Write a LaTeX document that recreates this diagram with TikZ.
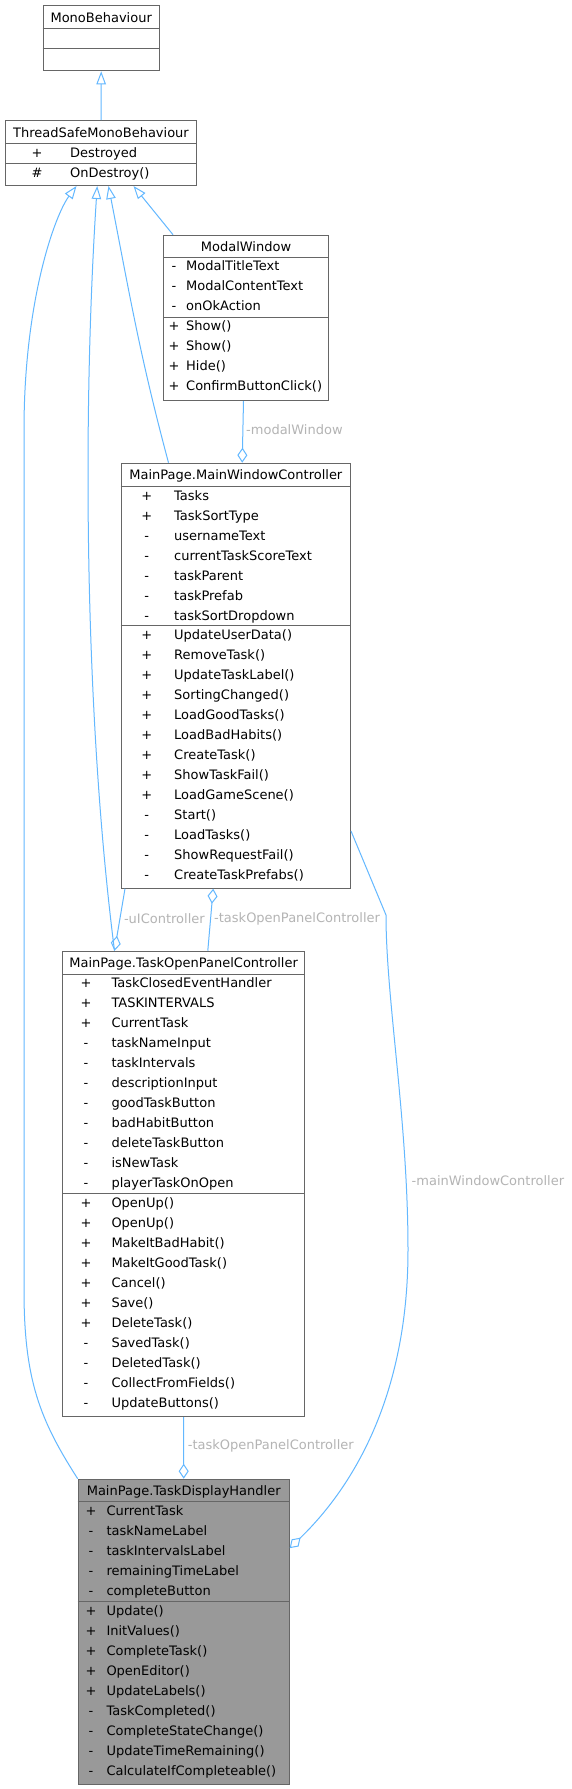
\documentclass[tikz,border=0pt]{standalone}
\usepackage{fontspec}
\setmainfont{DejaVu Sans}
\usetikzlibrary{arrows.meta,positioning,calc}
\definecolor{edge}{HTML}{63B8FF}
\definecolor{frame}{HTML}{666666}
\definecolor{shade}{HTML}{999999}
\definecolor{note}{HTML}{B4B4B4}

\begin{document}
\begin{tikzpicture}[
  x=1pt, y=-1pt,
  font=\fontsize{13}{15}\selectfont,
  cls/.style={draw=frame, line width=1pt, anchor=north west, inner sep=0pt, fill=white},
  ttl/.style={anchor=base, inner sep=0pt},
  sym/.style={anchor=base, inner sep=0pt},
  mem/.style={anchor=base west, inner sep=0pt},
  sep/.style={draw=frame, line width=1pt},
  lbl/.style={anchor=west, inner sep=0pt, text=note},
  inh/.style={draw=edge, line width=1pt, -{Triangle[open, length=13pt, width=9.5pt]}},
  agg/.style={draw=edge, line width=1pt, -{Diamond[open, length=15pt, width=10pt]}}]
  \useasboundingbox (0,0) rectangle (571,1789);
  \fill[white] (0,0) rectangle (571,1789);
  % MonoBehaviour
  \node[cls, minimum width=116pt, minimum height=65.3pt] (mono) at (42.7,5) {};
  \node[ttl] (mono-t) at ([yshift=-17pt]mono.north) {MonoBehaviour};
  \draw[sep] (mono.west |- 0,28.7) -- (mono.east |- 0,28.7);
  \draw[sep] (mono.west |- 0,48.7) -- (mono.east |- 0,48.7);
  % ThreadSafeMonoBehaviour
  \node[cls, minimum width=191pt, minimum height=65pt] (tsmb) at (5,120) {};
  \node[ttl] (tsmb-t) at ([yshift=-17pt]tsmb.north) {ThreadSafeMonoBehaviour};
  \draw[sep] (tsmb.west |- 0,143.7) -- (tsmb.east |- 0,143.7);
  \draw[sep] (tsmb.west |- 0,163.7) -- (tsmb.east |- 0,163.7);
  \node[sym] (tsmb-fs0) at (37,157.2) {+};
  \node[mem] (tsmb-f0) at (70,157.2) {Destroyed};
  \node[sym] (tsmb-ms0) at (37,177.2) {\#};
  \node[mem] (tsmb-m0) at (70,177.2) {OnDestroy()};
  % ModalWindow
  \node[cls, minimum width=165pt, minimum height=165.3pt] (modal) at (163,234.7) {};
  \node[ttl] (modal-t) at ([yshift=-16.5pt]modal.north) {ModalWindow};
  \draw[sep] (modal.west |- 0,257) -- (modal.east |- 0,257);
  \draw[sep] (modal.west |- 0,317) -- (modal.east |- 0,317);
  \foreach \vis/\txt [count=\i from 0] in {-/ModalTitleText,-/ModalContentText,-/onOkAction}
    {\node[sym] (modal-fs\i) at (174,270.5+20*\i) {\vis};
     \node[mem] (modal-f\i) at (186,270.5+20*\i) {\txt};}
  \foreach \vis/\txt [count=\i from 0] in {+/Show(),+/Show(),+/Hide(),+/ConfirmButtonClick()}
    {\node[sym] (modal-ms\i) at (174,330.5+20*\i) {\vis};
     \node[mem] (modal-m\i) at (186,330.5+20*\i) {\txt};}
  % MainWindowController
  \node[cls, minimum width=229.3pt, minimum height=425pt] (mwc) at (120.7,462.7) {};
  \node[ttl] (mwc-t) at ([yshift=-16.8pt]mwc.north) {MainPage.MainWindowController};
  \draw[sep] (mwc.west |- 0,486.7) -- (mwc.east |- 0,486.7);
  \draw[sep] (mwc.west |- 0,625.7) -- (mwc.east |- 0,625.7);
  \foreach \vis/\txt [count=\i from 0] in {+/Tasks,+/TaskSortType,-/usernameText,-/currentTaskScoreText,
      -/taskParent,-/taskPrefab,-/taskSortDropdown}
    {\node[sym] (mwc-fs\i) at (146.7,500.2+20*\i) {\vis};
     \node[mem] (mwc-f\i) at (174,500.2+20*\i) {\txt};}
  \foreach \vis/\txt [count=\i from 0] in {+/UpdateUserData(),+/RemoveTask(),+/UpdateTaskLabel(),
      +/SortingChanged(),+/LoadGoodTasks(),+/LoadBadHabits(),+/CreateTask(),+/ShowTaskFail(),
      +/LoadGameScene(),-/Start(),-/LoadTasks(),-/ShowRequestFail(),-/CreateTaskPrefabs()}
    {\node[sym] (mwc-ms\i) at (146.7,639.2+20*\i) {\vis};
     \node[mem] (mwc-m\i) at (174,639.2+20*\i) {\txt};}
  % TaskOpenPanelController
  \node[cls, minimum width=242.3pt, minimum height=465.3pt] (topc) at (62,950.7) {};
  \node[ttl] (topc-t) at ([yshift=-17pt]topc.north) {MainPage.TaskOpenPanelController};
  \draw[sep] (topc.west |- 0,974) -- (topc.east |- 0,974);
  \draw[sep] (topc.west |- 0,1193.7) -- (topc.east |- 0,1193.7);
  \foreach \vis/\txt [count=\i from 0] in {+/TaskClosedEventHandler,+/TASKINTERVALS,+/CurrentTask,
      -/taskNameInput,-/taskIntervals,-/descriptionInput,-/goodTaskButton,-/badHabitButton,
      -/deleteTaskButton,-/isNewTask,-/playerTaskOnOpen}
    {\node[sym] (topc-fs\i) at (86,987.5+20*\i) {\vis};
     \node[mem] (topc-f\i) at (111.3,987.5+20*\i) {\txt};}
  \foreach \vis/\txt [count=\i from 0] in {+/OpenUp(),+/OpenUp(),+/MakeItBadHabit(),+/MakeItGoodTask(),
      +/Cancel(),+/Save(),+/DeleteTask(),-/SavedTask(),-/DeletedTask(),-/CollectFromFields(),
      -/UpdateButtons()}
    {\node[sym] (topc-ms\i) at (86,1207.4+20*\i) {\vis};
     \node[mem] (topc-m\i) at (111.3,1207.4+20*\i) {\txt};}
  % TaskDisplayHandler
  \node[cls, fill=shade, minimum width=211pt, minimum height=305pt] (tdh) at (77.7,1478.7) {};
  \node[ttl] (tdh-t) at ([yshift=-16.8pt]tdh.north) {MainPage.TaskDisplayHandler};
  \draw[sep] (tdh.west |- 0,1501.7) -- (tdh.east |- 0,1501.7);
  \draw[sep] (tdh.west |- 0,1601.7) -- (tdh.east |- 0,1601.7);
  \foreach \vis/\txt [count=\i from 0] in {+/CurrentTask,-/taskNameLabel,-/taskIntervalsLabel,
      -/remainingTimeLabel,-/completeButton}
    {\node[sym] (tdh-fs\i) at (91,1515.2+20*\i) {\vis};
     \node[mem] (tdh-f\i) at (106.3,1515.2+20*\i) {\txt};}
  \foreach \vis/\txt [count=\i from 0] in {+/Update(),+/InitValues(),+/CompleteTask(),+/OpenEditor(),
      +/UpdateLabels(),-/TaskCompleted(),-/CompleteStateChange(),-/UpdateTimeRemaining(),
      -/CalculateIfCompleteable()}
    {\node[sym] (tdh-ms\i) at (91,1615.2+20*\i) {\vis};
     \node[mem] (tdh-m\i) at (106.3,1615.2+20*\i) {\txt};}
  % inheritance
  \draw[inh] (tsmb.north) -- (mono.south);
  \draw[inh] ([xshift=10pt]modal.north west) -- ([xshift=32.5pt]tsmb.south);
  \draw[inh] ([xshift=-67.35pt]mwc.north) to[out=105, in=-79] ([xshift=7.5pt]tsmb.south);
  \draw[inh] ([xshift=-69.15pt]topc.north) .. controls (85,720) and (82,420) .. ([xshift=-3.8pt]tsmb.south);
  \draw[inh] (tdh.north west) .. controls (40,1420) and (24,1380) .. (24,1290) -- (24,430)
    .. controls (24,300) and (55,215) .. ([xshift=-24.5pt]tsmb.south);
  % members
  \draw[agg] ([xshift=-2.5pt]modal.south) -- ([xshift=6.35pt]mwc.north);
  \draw[agg] ([xshift=4.3pt]mwc.south west) -- ([xshift=-69.15pt]topc.north);
  \draw[agg] ([xshift=24.15pt]topc.north) -- ([xshift=-22.65pt]mwc.south);
  \draw[agg] (topc.south) -- (tdh.north);
  \draw[agg] ([yshift=-155.3pt]mwc.east) -- (386,915) .. controls (386,1000) and (408,1120) .. (408,1250)
    .. controls (408,1400) and (350,1490) .. ([yshift=83.6pt]tdh.east);
  \node[lbl] (l-modal) at (246,430) {-modalWindow};
  \node[lbl] (l-ui) at (123.8,918.6) {-uIController};
  \node[lbl] (l-topc1) at (214,918.6) {-taskOpenPanelController};
  \node[lbl] (l-topc2) at (187.7,1446) {-taskOpenPanelController};
  \node[lbl] (l-mwc) at (411.5,1181) {-mainWindowController};
\end{tikzpicture}
\end{document}
